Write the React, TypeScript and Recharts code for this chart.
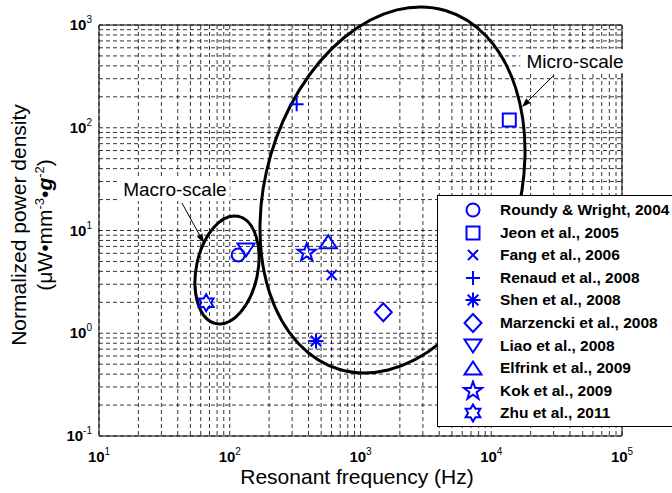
import React from 'react';
import {
  ScatterChart, Scatter, XAxis, YAxis, CartesianGrid,
  ReferenceArea, ReferenceLine, ReferenceDot, Legend,
} from 'recharts';

// --- data ---
const studies = [
  'Roundy & Wright, 2004',
  'Jeon et al., 2005',
  'Fang et al., 2006',
  'Renaud et al., 2008',
  'Shen et al., 2008',
  'Marzencki et al., 2008',
  'Liao et al., 2008',
  'Elfrink et al., 2009',
  'Kok et al., 2009',
  'Zhu et al., 2011',
];
const resonantFrequency = [116, 13740, 602, 325, 457, 1494, 133, 567, 388, 66];
const powerDensity = [5.78, 119, 3.69, 169, 0.84, 1.6, 6.46, 7.78, 6.08, 1.98];
const markerKinds = [
  'circle', 'square', 'x', 'plus', 'asterisk',
  'diamond', 'triangleDown', 'triangleUp', 'pentagram', 'hexagram',
];

const xDecades = [1, 2, 3, 4, 5];
const yDecades = [-1, 0, 1, 2, 3];
const mantissas = [1, 2, 3, 4, 5, 6, 7, 8, 9];

// log grid: every 1..9 x 10^k inside the range
const logTicks = (decades: number[]) => {
  const out: number[] = [];
  decades.forEach((d, i) => {
    const ms = i === decades.length - 1 ? [1] : mantissas;
    ms.forEach((m) => out.push(Number((m * Math.pow(10, d)).toPrecision(3))));
  });
  return out;
};
const xTicks = logTicks(xDecades);
const yTicks = logTicks(yDecades);

// annotation ellipses: centre (Hz, density), half spans in decades, tilt in degrees
const ellipses = [
  { name: 'macro', cx: 95.3, cy: 4.13, hx: 0.235, hy: 0.533, tilt: 11.6 },
  { name: 'micro', cx: 1757, cy: 24.8, hx: 0.969, hy: 1.821, tilt: 16.4 },
];
const notes = [
  { text: 'Macro-scale', x: 38.1, y: 25.3, from: { x: 43.1, y: 18.5 }, to: { x: 63.5, y: 7.55 } },
  { text: 'Micro-scale', x: 43700, y: 446, from: { x: 30200, y: 326 }, to: { x: 17190, y: 159 } },
];

const FONT = '"Liberation Sans", Arial, Helvetica, sans-serif';
const BLUE = '#0000ff';
const W = 672;
const H = 493;
const PLOT_BOTTOM = 436;

const isMajor = (v: number) => Math.abs(Math.log10(v) - Math.round(Math.log10(v))) < 1e-9;

const MarkerGlyph = ({ kind, cx, cy }: { kind: string; cx: number; cy: number }) => {
  const s = { fill: 'none', stroke: BLUE, strokeWidth: 2, strokeLinejoin: 'miter' as const };
  const poly = (pts: number[][]) => 'M' + pts.map((p) => `${cx + p[0]},${cy + p[1]}`).join('L') + 'Z';
  const star = (n: number, R: number, r: number) => {
    const pts: number[][] = [];
    for (let k = 0; k < n * 2; k++) {
      const a = (-90 + (k * 180) / n) * (Math.PI / 180);
      const rad = k % 2 === 0 ? R : r;
      pts.push([rad * Math.cos(a), rad * Math.sin(a)]);
    }
    return poly(pts);
  };
  switch (kind) {
    case 'circle':
      return <circle cx={cx} cy={cy} r={6.5} {...s} />;
    case 'square':
      return <rect x={cx - 6.5} y={cy - 6.5} width={13} height={13} {...s} />;
    case 'x':
      return <path d={`M${cx - 5},${cy - 5}L${cx + 5},${cy + 5}M${cx - 5},${cy + 5}L${cx + 5},${cy - 5}`} {...s} />;
    case 'plus':
      return <path d={`M${cx - 7},${cy}L${cx + 7},${cy}M${cx},${cy - 7}L${cx},${cy + 7}`} {...s} />;
    case 'asterisk':
      return (
        <path
          d={`M${cx - 7.5},${cy}L${cx + 7.5},${cy}M${cx},${cy - 7.5}L${cx},${cy + 7.5}` +
            `M${cx - 5.3},${cy - 5.3}L${cx + 5.3},${cy + 5.3}M${cx - 5.3},${cy + 5.3}L${cx + 5.3},${cy - 5.3}`}
          {...s}
        />
      );
    case 'diamond':
      return <path d={poly([[0, -9], [8.5, 0], [0, 9], [-8.5, 0]])} {...s} />;
    case 'triangleDown':
      return <path d={poly([[-8.5, -6.5], [8.5, -6.5], [0, 6.5]])} {...s} />;
    case 'triangleUp':
      return <path d={poly([[0, -6.5], [8.5, 6.5], [-8.5, 6.5]])} {...s} />;
    case 'pentagram':
      return <path d={star(5, 9.5, 3.8)} {...s} />;
    case 'hexagram':
      return <path d={star(6, 8.5, 4.9)} {...s} />;
    default:
      return null;
  }
};

const XTick = (props: any) => {
  const { x, payload } = props;
  if (!isMajor(payload.value)) return null;
  const e = Math.round(Math.log10(payload.value));
  return (
    <text x={x} y={PLOT_BOTTOM + 26} textAnchor="middle" fontFamily={FONT} fontSize={15} fontWeight="bold" fill="#000">
      10<tspan dy={-7} fontSize={10} fontWeight="normal">{e}</tspan>
    </text>
  );
};

const YTick = (props: any) => {
  const { y, payload } = props;
  if (!isMajor(payload.value)) return null;
  const e = Math.round(Math.log10(payload.value));
  return (
    <text x={92} y={y + 5} textAnchor="end" fontFamily={FONT} fontSize={15} fontWeight="bold" fill="#000">
      10<tspan dy={-7} fontSize={10} fontWeight="normal">{e}</tspan>
    </text>
  );
};

const XTitle = () => (
  <text x={357} y={484} textAnchor="middle" fontFamily={FONT} fontSize={21} fill="#000">
    Resonant frequency (Hz)
  </text>
);

const YTitle = () => (
  <g transform="translate(0,225) rotate(-90)" fontFamily={FONT} fill="#000">
    <text x={0} y={26} textAnchor="middle" fontSize={21}>Normalized power density</text>
    <text x={0} y={52} textAnchor="middle" fontSize={21}>
      (μW•mm<tspan dy={-8} fontSize={13}>-3</tspan>
      <tspan dy={8}>•</tspan>
      <tspan fontWeight="bold" fontStyle="italic">g</tspan>
      <tspan dy={-8} fontSize={13}>-2</tspan>
      <tspan dy={8}>)</tspan>
    </text>
  </g>
);

const EllipseShape = (p: any) => {
  const cx = p.x + p.width / 2;
  const cy = p.y + p.height / 2;
  return (
    <ellipse
      cx={cx}
      cy={cy}
      rx={p.width / 2}
      ry={p.height / 2}
      transform={`rotate(${p.tilt} ${cx} ${cy})`}
      fill="none"
      stroke="#000"
      strokeWidth={3}
    />
  );
};

const ArrowShape = (p: any) => {
  const { x1, y1, x2, y2 } = p;
  const a = Math.atan2(y2 - y1, x2 - x1);
  const len = 9;
  const half = 3.2;
  const bx = x2 - len * Math.cos(a);
  const by = y2 - len * Math.sin(a);
  const nx = -Math.sin(a) * half;
  const ny = Math.cos(a) * half;
  return (
    <g>
      <line x1={x1} y1={y1} x2={bx} y2={by} stroke="#000" strokeWidth={1} />
      <path d={`M${x2},${y2}L${bx + nx},${by + ny}L${bx - nx},${by - ny}Z`} fill="#000" />
    </g>
  );
};

// text label with a white box behind it, as in the figure
const NoteText = ({ cx, cy, text }: { cx: number; cy: number; text: string }) => {
  const w = text.length * 9.4 + 6;
  return (
    <g>
      <rect x={cx - w / 2} y={cy - 12} width={w} height={24} fill="#fff" />
      <text x={cx} y={cy} dy="0.35em" textAnchor="middle" fontFamily={FONT} fontSize={19} fill="#000">
        {text}
      </text>
    </g>
  );
};

const LegendBox = () => (
  <div
    style={{
      position: 'relative',
      width: 260,
      height: 232,
      border: '1px solid #000',
      background: '#fff',
      boxSizing: 'border-box',
      fontFamily: FONT,
    }}
  >
    {studies.map((s, i) => (
      <div key={s} style={{ position: 'absolute', left: 0, top: 3 + i * 22.6, height: 22, width: 260 }}>
        <svg width={30} height={22} style={{ position: 'absolute', left: 20, top: 0 }}>
          <MarkerGlyph kind={markerKinds[i]} cx={15} cy={11} />
        </svg>
        <span
          style={{
            position: 'absolute',
            left: 62,
            top: 0,
            lineHeight: '22px',
            fontSize: 15.5,
            fontWeight: 'bold',
            color: '#000',
            whiteSpace: 'nowrap',
          }}
        >
          {s}
        </span>
      </div>
    ))}
  </div>
);

export default function App() {
  return (
    <div style={{ position: 'absolute', left: 0, top: 0, width: W, height: H, overflow: 'hidden', background: '#fff' }}>
      <ScatterChart width={W} height={H} margin={{ top: 25, right: 50, bottom: 7, left: 39 }}>
        <CartesianGrid stroke="#000" strokeWidth={0.8} strokeDasharray="4 3" />
        <XAxis
          type="number"
          dataKey="x"
          scale="log"
          domain={[10, 100000]}
          allowDataOverflow
          ticks={xTicks}
          interval={0}
          tick={<XTick />}
          tickLine={false}
          axisLine={false}
          height={50}
          label={<XTitle />}
        />
        <YAxis
          type="number"
          dataKey="y"
          scale="log"
          domain={[0.1, 1000]}
          allowDataOverflow
          ticks={yTicks}
          interval={0}
          tick={<YTick />}
          tickLine={false}
          axisLine={false}
          width={60}
          label={<YTitle />}
        />
        {notes.map((n) => (
          <ReferenceDot
            key={n.text}
            x={n.x}
            y={n.y}
            ifOverflow="visible"
            shape={(p: any) => <NoteText cx={p.cx} cy={p.cy} text={n.text} />}
          />
        ))}
        <ReferenceArea x1={10} x2={100000} y1={0.1} y2={1000} ifOverflow="visible" fill="none" fillOpacity={0} stroke="#000" strokeWidth={1} />
        {ellipses.map((e) => (
          <ReferenceArea
            key={e.name}
            x1={e.cx / Math.pow(10, e.hx)}
            x2={e.cx * Math.pow(10, e.hx)}
            y1={e.cy / Math.pow(10, e.hy)}
            y2={e.cy * Math.pow(10, e.hy)}
            ifOverflow="visible"
            shape={(p: any) => <EllipseShape {...p} tilt={e.tilt} />}
          />
        ))}
        {notes.map((n) => (
          <ReferenceLine key={n.text + '-arrow'} segment={[n.from, n.to]} ifOverflow="visible" shape={ArrowShape} />
        ))}
        {studies.map((s, i) => (
          <Scatter
            key={s}
            name={s}
            data={[{ x: resonantFrequency[i], y: powerDensity[i] }]}
            isAnimationActive={false}
            shape={(p: any) => <MarkerGlyph kind={markerKinds[i]} cx={p.cx} cy={p.cy} />}
          />
        ))}
        <Legend
          layout="vertical"
          align="center"
          verticalAlign="middle"
          wrapperStyle={{ left: 437, top: 195, width: 260, height: 232 }}
          content={() => <LegendBox />}
        />
      </ScatterChart>
    </div>
  );
}
